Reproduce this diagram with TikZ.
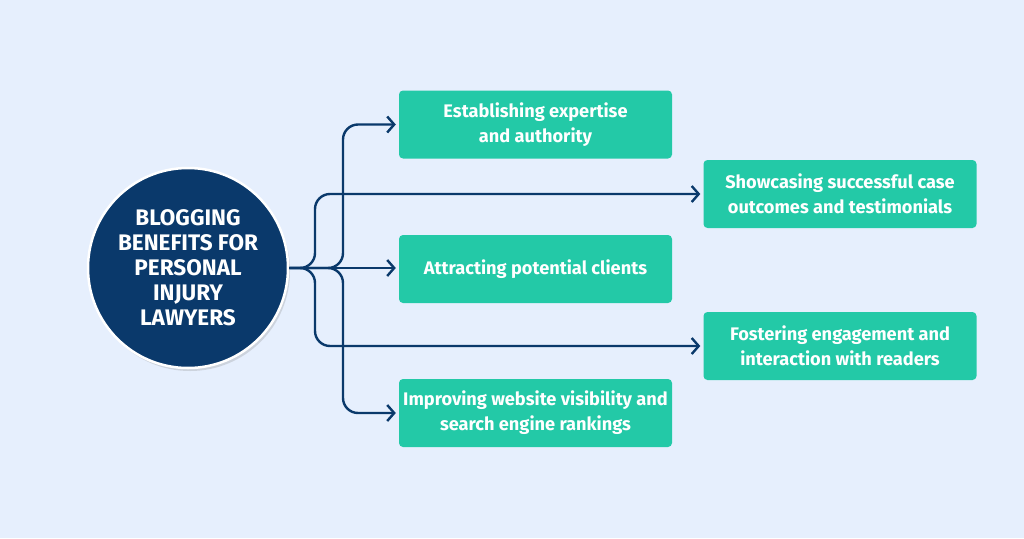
\documentclass[tikz,border=0pt]{standalone}
\usepackage{fontspec}
\setmainfont{Fira Sans}
\usetikzlibrary{arrows.meta,shadows}
\definecolor{bgblue}{HTML}{E6EFFD}
\definecolor{navy}{HTML}{0A396B}
\definecolor{boxgreen}{HTML}{23C9A7}
\tikzset{
	benefit/.style={fill=boxgreen,rounded corners=4pt,minimum width=273pt,minimum height=68pt,
		inner xsep=2pt,text=white,align=center,font=\bfseries\fontsize{18.2}{25}\selectfont},
	link/.style={draw=navy,line width=2.4pt,rounded corners=15pt,
		-{Straight Barb[length=7pt,width=16pt]},shorten >=3pt}
}
\begin{document}
\begin{tikzpicture}[x=1pt,y=-1pt]
		\fill[bgblue] (0,0) rectangle (1024,538);
		\node[circle,fill=navy,draw=white,line width=2.5pt,minimum size=200pt,inner sep=0pt,
			drop shadow={opacity=0.25,shadow xshift=2pt,shadow yshift=-3pt},
			text=white,align=center,font=\bfseries\fontsize{22.5}{25}\selectfont] (hub) at (188,268)
			{BLOGGING\\BENEFITS FOR\\PERSONAL\\INJURY\\LAWYERS};
	
		\begin{scope}[every node/.style={benefit}]
			\node (expertise) at (535.5,124.5) {Establishing expertise\\and authority};
			\node (showcase) at (840,194) {Showcasing successful case\\outcomes and testimonials};
			\node (clients) at (535.5,269) {Attracting potential clients};
			\node (engage) at (840,346) {Fostering engagement and\\interaction with readers};
			\node (visibility) at (535.5,413) {Improving website visibility and\\search engine rankings};
		\end{scope}
	
		\coordinate (inner) at (343,268);
		\coordinate (outer) at (315,268);
		\draw[link] (hub.east) -| (inner |- expertise.west) -- (expertise.west);
		\draw[link] (hub.east) -| (outer |- showcase.west) -- (showcase.west);
		\draw[link] (hub.east) -- (hub.east -| clients.west);
		\draw[link] (hub.east) -| (outer |- engage.west) -- (engage.west);
		\draw[link] (hub.east) -| (inner |- visibility.west) -- (visibility.west);
	\end{tikzpicture}
\end{document}
